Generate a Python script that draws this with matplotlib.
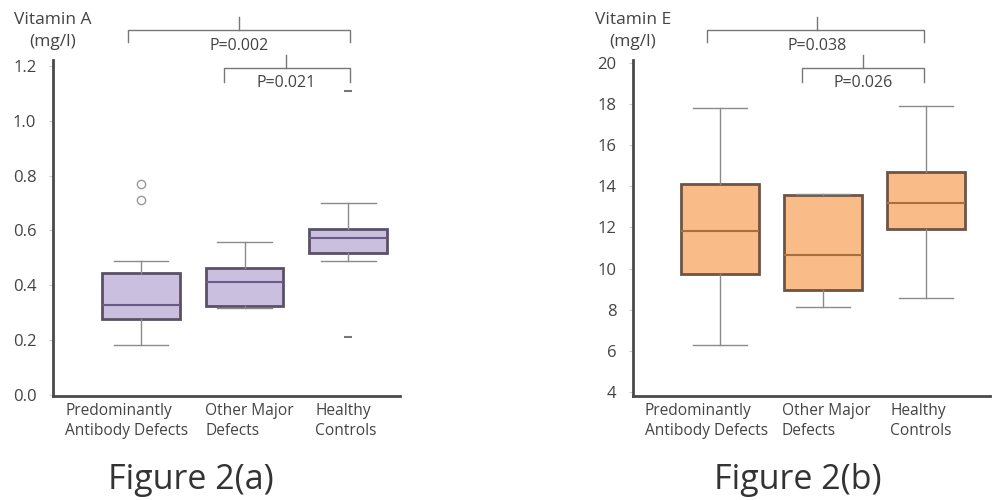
import matplotlib
matplotlib.use("Agg")
import matplotlib.pyplot as plt
import matplotlib.transforms as mtransforms

plt.rcParams['font.family'] = ['Open Sans', 'DejaVu Sans']

groups = ["Predominantly\nAntibody Defects", "Other Major\nDefects", "Healthy\nControls"]

# Vitamin A (mg/l)
vita_low = [0.182, 0.318, 0.489]
vita_q1 = [0.277, 0.325, 0.518]
vita_med = [0.328, 0.412, 0.573]
vita_q3 = [0.445, 0.463, 0.606]
vita_high = [0.489, 0.558, 0.700]
vita_out = [[0.77, 0.71], [], [1.11, 0.21]]
vita_ticks = [0.0, 0.2, 0.4, 0.6, 0.8, 1.0, 1.2]

# Vitamin E (mg/l)
vite_low = [6.3, 8.13, 8.57]
vite_q1 = [9.74, 8.96, 11.93]
vite_med = [11.83, 10.66, 13.19]
vite_q3 = [14.12, 13.58, 14.70]
vite_high = [17.81, 13.65, 17.91]
vite_out = [[], [], []]
vite_ticks = [4, 6, 8, 10, 12, 14, 16, 18, 20]

p_a = ["P=0.002", "P=0.021"]
p_e = ["P=0.038", "P=0.026"]

fig = plt.figure(figsize=(10, 5), dpi=100)
ax1 = fig.add_axes([0.053, 0.208, 0.347, 0.672])
ax2 = fig.add_axes([0.633, 0.208, 0.357, 0.672])


def draw_panel(ax, low, q1, med, q3, high, out, fill, edge, medc):
    stats = []
    for i in range(len(groups)):
        stats.append(dict(whislo=low[i], q1=q1[i], med=med[i], q3=q3[i],
                          whishi=high[i], fliers=out[i]))
    res = ax.bxp(stats, positions=[1, 2, 3], widths=0.75, patch_artist=True,
                 showfliers=True,
                 boxprops=dict(facecolor=fill, edgecolor=edge, linewidth=2),
                 medianprops=dict(color=medc, linewidth=1.5),
                 whiskerprops=dict(color="#8a8a8a", linewidth=1),
                 capprops=dict(color="#8a8a8a", linewidth=1),
                 capwidths=0.53,
                 flierprops=dict(marker='o', markerfacecolor='none',
                                 markeredgecolor='#999999', markersize=6))
    return res


ra = draw_panel(ax1, vita_low, vita_q1, vita_med, vita_q3, vita_high, vita_out,
                "#cbbfe0", "#5a5068", "#6b5a86")
ra['fliers'][2].set_marker('_')
ra['fliers'][2].set_markeredgecolor('#777777')
ra['fliers'][2].set_markersize(6)
ra['fliers'][2].set_markeredgewidth(1.5)

draw_panel(ax2, vite_low, vite_q1, vite_med, vite_q3, vite_high, vite_out,
           "#f9bb88", "#6e5444", "#a8703f")

ax1.set_xlim(0.15, 3.5)
ax1.set_ylim(-0.004, 1.222)
ax1.set_yticks(vita_ticks)
ax1.set_yticklabels(["%.1f" % t for t in vita_ticks])
ax2.set_xlim(0.155, 3.62)
ax2.set_ylim(3.8, 20.15)
ax2.set_yticks(vite_ticks)
ax2.set_yticklabels([str(t) for t in vite_ticks])

# left edge of each x label block, relative to the box centre (data units)
label_shift = {ax1: [-0.73, -0.38, -0.32], ax2: [-0.73, -0.40, -0.35]}

for ax in (ax1, ax2):
    ax.spines['top'].set_visible(False)
    ax.spines['right'].set_visible(False)
    ax.spines['left'].set_color('#4a4a4a')
    ax.spines['bottom'].set_color('#4a4a4a')
    ax.spines['left'].set_linewidth(2)
    ax.spines['bottom'].set_linewidth(2)
    ax.set_xticks([1, 2, 3])
    ax.set_xticklabels([])
    ax.tick_params(axis='x', length=0)
    ax.tick_params(axis='y', length=3, color='#cccccc', labelsize=12,
                   labelcolor='#444444', pad=9)
    trans = mtransforms.blended_transform_factory(ax.transData, ax.transAxes)
    for i, lab in enumerate(groups):
        ax.text(i + 1 + label_shift[ax][i], -0.022, lab, transform=trans,
                ha='left', va='top', fontsize=11.2, color='#444444',
                linespacing=1.3)


def bracket(ax, x0, x1, xm, y, yend, ytop, label, ytext):
    kw = dict(color='#777777', linewidth=1, clip_on=False)
    ax.plot([x0, x0, x1, x1], [yend, y, y, yend], **kw)
    ax.plot([xm, xm], [y, ytop], **kw)
    ax.text(xm, ytext, label, ha='center', va='center', fontsize=11.5,
            color='#444444', clip_on=False)


bracket(ax1, 0.87, 3.02, 1.95, 1.332, 1.288, 1.38, p_a[0], 1.274)
bracket(ax1, 1.80, 3.02, 2.40, 1.193, 1.142, 1.24, p_a[1], 1.139)
bracket(ax2, 0.874, 2.98, 1.94, 21.6, 21.02, 22.24, p_e[0], 20.83)
bracket(ax2, 1.80, 2.98, 2.39, 19.76, 19.08, 20.39, p_e[1], 19.03)

fig.text(0.053, 0.96, "Vitamin A", ha='center', va='center', fontsize=12.5, color='#444444')
fig.text(0.053, 0.916, "(mg/l)", ha='center', va='center', fontsize=12.5, color='#444444')
fig.text(0.633, 0.96, "Vitamin E", ha='center', va='center', fontsize=12.5, color='#444444')
fig.text(0.633, 0.916, "(mg/l)", ha='center', va='center', fontsize=12.5, color='#444444')

fig.text(0.191, 0.04, "Figure 2(a)", ha='center', va='center', fontsize=24.5, color='#333333')
fig.text(0.798, 0.04, "Figure 2(b)", ha='center', va='center', fontsize=24.5, color='#333333')

fig.savefig("out.png", dpi=100)
